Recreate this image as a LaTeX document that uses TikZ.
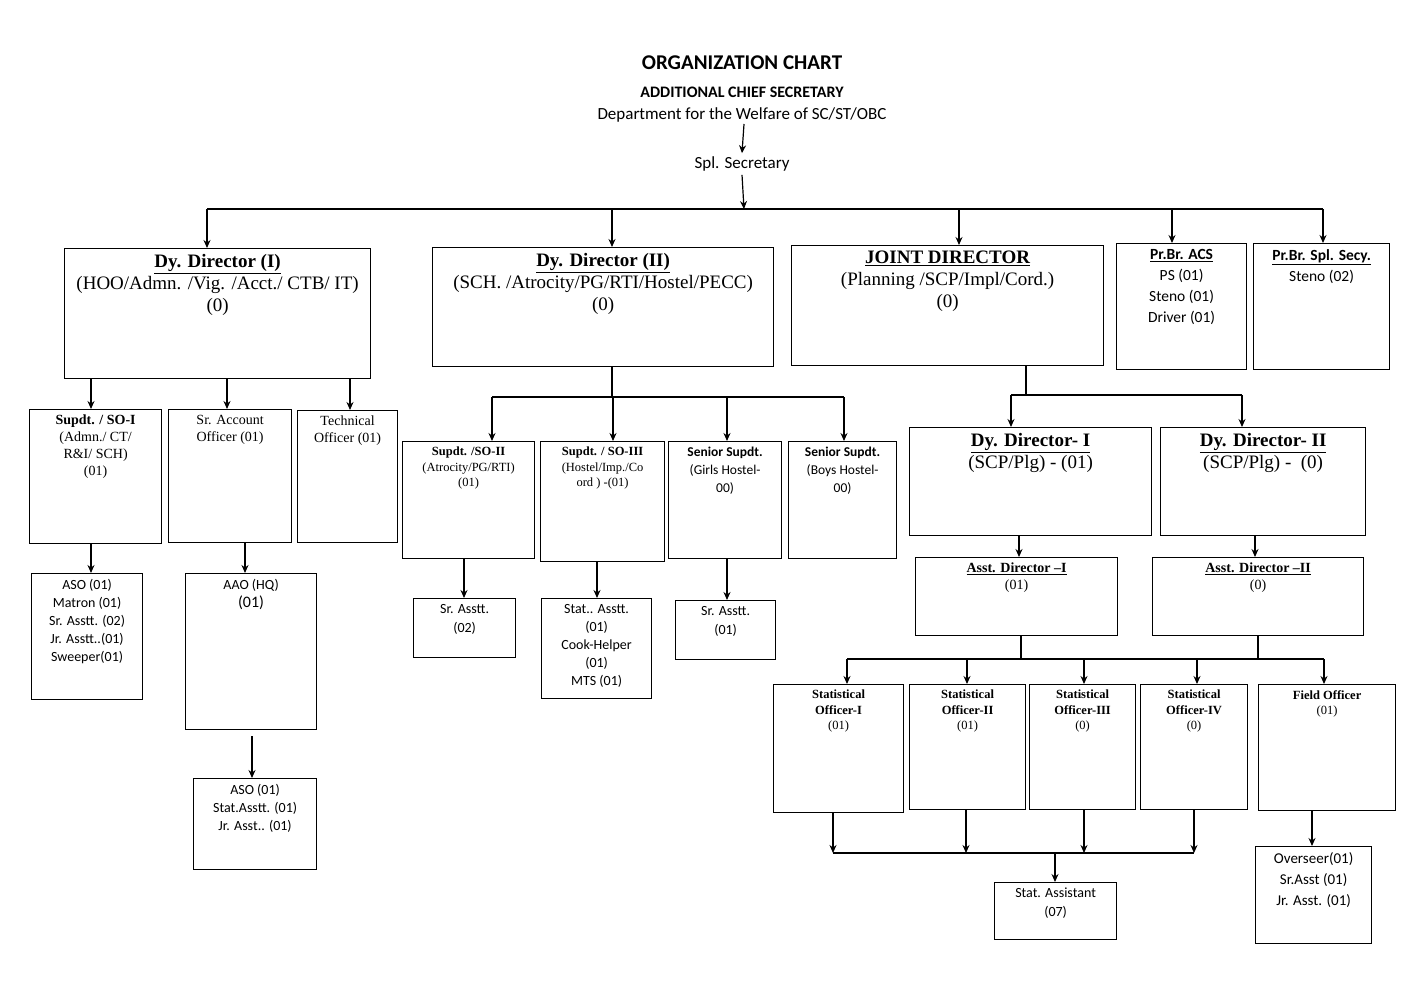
\documentclass[tikz,border=0pt]{standalone}
\usepackage{fontspec}
\setmainfont{Liberation Serif}
\newfontfamily\calfont{Carlito}
\usetikzlibrary{arrows.meta}
\newcommand{\bx}[7]{%
  \node[draw,line width=1.2pt,anchor=north west,inner sep=0pt,minimum width={(#4-#2)*1pt},minimum height={(#5-#3)*1pt}] (#1) at (#2,#3) {};
  \node[anchor=north,align=center,inner sep=0pt,#7] (#1t) at ([yshift=-6pt]#1.north) {#6};}
\begin{document}
\begin{tikzpicture}[x=1pt,y=-1pt,
  ar/.style={line width=1.2pt,-{Stealth[length=8pt,width=7pt]}},
  ln/.style={line width=1.2pt},
  sf/.style={font=\calfont\fontsize{15}{18}\selectfont},
  rm/.style={font=\fontsize{19}{22}\selectfont},
  rs/.style={font=\fontsize{14}{17}\selectfont},
  rx/.style={font=\fontsize{12.5}{15.5}\selectfont}]
\useasboundingbox (0,0) rectangle (1422,1006);
\node[font=\calfont\bfseries\fontsize{21}{24}\selectfont] (title) at (742,63) {ORGANIZATION CHART};
\node[font=\calfont\bfseries\fontsize{16}{19}\selectfont] (acs) at (742,92) {ADDITIONAL CHIEF SECRETARY};
\node[font=\calfont\fontsize{17}{20}\selectfont] (dept) at (742,115) {Department for the Welfare of SC/ST/OBC};
\node[font=\calfont\fontsize{17}{20}\selectfont] (spl) at (742,164) {Spl. Secretary};
\coordinate (bus) at (744,209);
% level 1
\bx{dd1}{64}{248}{370}{378}{\textbf{\underline{Dy. Director (I)}}\\(HOO/Admn. /Vig. /Acct./ CTB/ IT)\\(0)}{rm}
\bx{dd2}{432}{247}{773}{366}{\textbf{\underline{Dy. Director (II)}}\\(SCH. /Atrocity/PG/RTI/Hostel/PECC)\\(0)}{rm}
\bx{jd}{791}{245}{1103}{365}{\textbf{\underline{JOINT DIRECTOR}}\\(Planning /SCP/Impl/Cord.)\\(0)}{rm}
\bx{pacs}{1116}{243}{1246}{369}{\textbf{\underline{Pr.Br. ACS}}\\PS (01)\\Steno (01)\\Driver (01)}{sf,font=\calfont\fontsize{15.5}{21}\selectfont}
\bx{pspl}{1253}{243}{1389}{369}{\textbf{\underline{Pr.Br. Spl. Secy.}}\\Steno (02)}{sf,font=\calfont\fontsize{15.5}{21}\selectfont}
% under dd1
\bx{so1}{29}{409}{161}{543}{\textbf{Supdt. / SO-I}\\(Admn./ CT/\\R\&I/ SCH)\\(01)}{rs}
\bx{sra}{168}{409}{291}{542}{Sr. Account\\Officer (01)}{rs}
\bx{tech}{297}{410}{397}{542}{Technical\\Officer (01)}{rs}
\bx{aso}{31}{573}{142}{699}{ASO (01)\\Matron (01)\\Sr. Asstt. (02)\\Jr. Asstt..(01)\\Sweeper(01)}{font=\calfont\fontsize{14}{18}\selectfont}
\bx{aao}{185}{573}{316}{729}{AAO (HQ)\\{\fontsize{16}{20}\selectfont(01)}}{font=\calfont\fontsize{14}{18}\selectfont}
\bx{aso2}{193}{778}{316}{869}{ASO (01)\\Stat.Asstt. (01)\\Jr. Asst.. (01)}{font=\calfont\fontsize{14}{18}\selectfont}
% under dd2
\bx{so2}{402}{441}{534}{558}{\textbf{Supdt. /SO-II}\\(Atrocity/PG/RTI)\\(01)}{rx}
\bx{so3}{540}{441}{664}{561}{\textbf{Supdt. / SO-III}\\(Hostel/Imp./Co\\ord ) -(01)}{rx}
\bx{girls}{668}{441}{781}{558}{\textbf{Senior Supdt.}\\(Girls Hostel-\\00)}{font=\calfont\fontsize{13.5}{18}\selectfont}
\bx{boys}{788}{441}{896}{558}{\textbf{Senior Supdt.}\\(Boys Hostel-\\00)}{font=\calfont\fontsize{13.5}{18}\selectfont}
\bx{sr2}{413}{598}{515}{657}{Sr. Asstt.\\(02)}{font=\calfont\fontsize{14}{19}\selectfont}
\bx{stat}{541}{598}{651}{698}{Stat.. Asstt.\\(01)\\Cook-Helper\\(01)\\MTS (01)}{font=\calfont\fontsize{14}{18}\selectfont}
\bx{sr3}{675}{600}{775}{659}{Sr. Asstt.\\(01)}{font=\calfont\fontsize{14}{19}\selectfont}
% under jd
\bx{ddi}{909}{427}{1151}{535}{\textbf{\underline{Dy. Director- I}}\\(SCP/Plg) - (01)}{rm}
\bx{ddii}{1160}{427}{1365}{535}{\textbf{\underline{Dy. Director- II}}\\(SCP/Plg) -\ \ (0)}{rm}
\bx{adi}{915}{557}{1117}{635}{\textbf{\underline{Asst. Director --I}}\\(01)}{rs}
\bx{adii}{1152}{557}{1363}{635}{\textbf{\underline{Asst. Director --II}}\\(0)}{rs}
\bx{st1}{773}{684}{903}{812}{\textbf{Statistical}\\\textbf{Officer-I}\\(01)}{rx}
\bx{st2}{909}{684}{1025}{809}{\textbf{Statistical}\\\textbf{Officer-II}\\(01)}{rx}
\bx{st3}{1029}{684}{1135}{809}{\textbf{Statistical}\\\textbf{Officer-III}\\(0)}{rx}
\bx{st4}{1140}{684}{1247}{809}{\textbf{Statistical}\\\textbf{Officer-IV}\\(0)}{rx}
\bx{fo}{1258}{684}{1395}{810}{\textbf{Field Officer}\\(01)}{rx}
\bx{sa}{994}{882}{1116}{939}{Stat. Assistant\\(07)}{font=\calfont\fontsize{14}{19}\selectfont}
\bx{ov}{1255}{846}{1371}{943}{Overseer(01)\\Sr.Asst (01)\\Jr. Asst. (01)}{font=\calfont\fontsize{15}{21}\selectfont}
% connectors
\draw[ar] (744,124) -- (spl.north);
\draw[ar] (spl.south) -- (bus);
\draw[ln] (207,209) -- (1323,209);
\foreach \n/\x in {dd1/207,dd2/612,jd/959,pacs/1172,pspl/1323} \draw[ar] (\x,209) -- (\x,0 |- \n.north);
\foreach \n/\x in {so1/91,sra/227,tech/350} \draw[ar] (\x,0 |- dd1.south) -- (\x,0 |- \n.north);
\draw[ar] (91,0 |- so1.south) -- (91,0 |- aso.north);
\draw[ar] (245,0 |- sra.south) -- (245,0 |- aao.north);
\draw[ar] (252,736) -- (252,0 |- aso2.north);
\draw[ln] (612,0 |- dd2.south) -- (612,397);
\draw[ln] (492,397) -- (844,397);
\foreach \n/\x in {so2/492,so3/613,girls/727,boys/844} \draw[ar] (\x,397) -- (\x,0 |- \n.north);
\draw[ar] (464,0 |- so2.south) -- (464,0 |- sr2.north);
\draw[ar] (597,0 |- so3.south) -- (597,0 |- stat.north);
\draw[ar] (727,0 |- girls.south) -- (727,0 |- sr3.north);
\draw[ln] (1026,0 |- jd.south) -- (1026,395);
\draw[ln] (1011,395) -- (1242,395);
\draw[ar] (1011,395) -- (1011,0 |- ddi.north);
\draw[ar] (1242,395) -- (1242,0 |- ddii.north);
\draw[ar] (1019,0 |- ddi.south) -- (1019,0 |- adi.north);
\draw[ar] (1255,0 |- ddii.south) -- (1255,0 |- adii.north);
\draw[ln] (1021,0 |- adi.south) -- (1021,659);
\draw[ln] (1258,0 |- adii.south) -- (1258,659);
\draw[ln] (847,659) -- (1324,659);
\foreach \n/\x in {st1/847,st2/967,st3/1084,st4/1197,fo/1324} \draw[ar] (\x,659) -- (\x,0 |- \n.north);
\foreach \n/\x in {st1/833,st2/966,st3/1084,st4/1194} \draw[ar] (\x,0 |- \n.south) -- (\x,853);
\draw[ln] (833,853) -- (1194,853);
\draw[ar] (1055,853) -- (1055,0 |- sa.north);
\draw[ar] (1312,0 |- fo.south) -- (1312,0 |- ov.north);
\end{tikzpicture}
\end{document}
